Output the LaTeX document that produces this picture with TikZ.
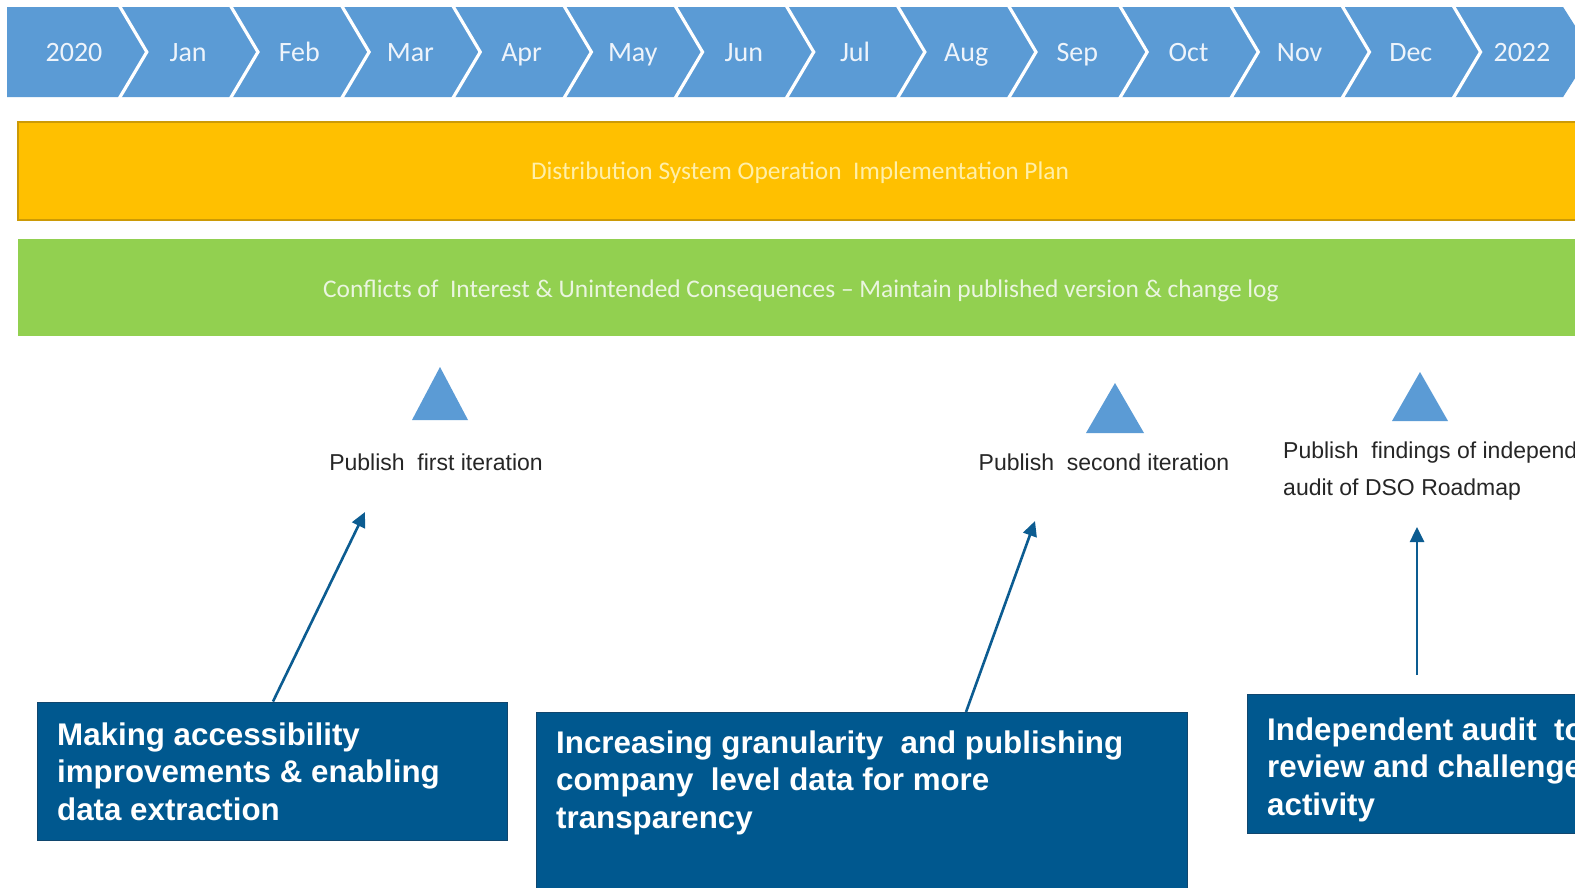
\documentclass[tikz,border=0pt]{standalone}
\usepackage{fontspec}
\setmainfont{Liberation Sans}
\newfontfamily\calib{Carlito}
\usetikzlibrary{arrows.meta}
\definecolor{chev}{HTML}{5B9BD5}
\definecolor{chevtxt}{HTML}{EEF4FB}
\definecolor{orangebar}{HTML}{FFC000}
\definecolor{orangeedge}{HTML}{CC9A06}
\definecolor{orangetxt}{HTML}{FFEFA8}
\definecolor{greenbar}{HTML}{92D050}
\definecolor{greentxt}{HTML}{EAF5DF}
\definecolor{boxblue}{RGB}{0,88,143}
\definecolor{boxedge}{RGB}{16,70,110}
\definecolor{arrblue}{RGB}{12,92,145}
\definecolor{lbl}{HTML}{262626}
\tikzset{
  mon/.style={font=\calib\fontsize{28}{32}\selectfont, text=chevtxt, inner sep=0pt, anchor=base},
  bar/.style={anchor=north west, inner sep=0pt, minimum width=1600pt, minimum height=98pt},
  bartxt/.style={font=\calib\fontsize{25.4}{30}\selectfont, inner sep=0pt, anchor=base},
  tri/.style={fill=chev},
  milestone/.style={font=\fontsize{23}{37}\selectfont, text=lbl, inner sep=0pt, align=left},
  bluebox/.style={fill=boxblue, draw=boxedge, line width=1.2pt, anchor=north west, inner sep=0pt},
  boxtxt/.style={font=\bfseries\fontsize{31.3}{37.5}\selectfont, text=white, inner sep=0pt, align=left, anchor=base west},
  arr/.style={draw=arrblue, line width=2.6pt, -{Triangle[length=15pt,width=14pt]}}
}
\begin{document}
\begin{tikzpicture}[x=1pt,y=-1pt]
\path[use as bounding box] (0,0) rectangle (1575,887);
\clip (0,0) rectangle (1575,887);
\fill[white] (0,0) rectangle (1575,887);

% timeline band
\fill[chev] (7,7) -- (1563.1,7) -- (1591.6,52) -- (1563.1,97) -- (7,97) -- cycle;
\foreach \k in {0,...,12}
  \draw[white, line width=3.2pt] ({118.3+111.15*\k},4) -- ({118.3+111.15*\k+28.5},52) -- ({118.3+111.15*\k},100);
\node[mon] (m0) at (74,61) {2020};
\foreach \m [count=\i from 1] in {Jan,Feb,Mar,Apr,May,Jun,Jul,Aug,Sep,Oct,Nov,Dec,2022}
  \node[mon] (m\i) at ({118.3+111.15*(\i-1)+69.85},61) {\m};

% bars
\node[bar, fill=orangebar, draw=orangeedge, line width=1.5pt, minimum height=98pt] (plan) at (17,121) {};
\node[bartxt, text=orangetxt] (plantxt) at (800,179) {Distribution System Operation\ \ Implementation Plan};
\node[bar, fill=greenbar, minimum height=97pt] (coi) at (18,239) {};
\node[bartxt, text=greentxt] (coitxt) at (801,297) {Conflicts of\ \ Interest \& Unintended Consequences – Maintain published version \& change log};

% milestones
\fill[tri] (440,367) -- (468,420) -- (412,420) -- cycle;
\fill[tri] (1115,383) -- (1144,433) -- (1086,433) -- cycle;
\fill[tri] (1420,372) -- (1448,421) -- (1392,421) -- cycle;
\node[milestone, anchor=base] (p1) at (436,470) {Publish\ \ first iteration};
\node[milestone, anchor=base] (p2) at (1104,470) {Publish\ \ second iteration};
\node[milestone, anchor=base west] (p3) at (1283,495) {Publish\ \ findings of independent\\audit of DSO Roadmap};

% boxes
\node[bluebox, minimum width=470pt, minimum height=138pt] (b1) at (37,701.5) {};
\node[boxtxt] (t1) at (57,820) {Making accessibility\\improvements \& enabling\\data extraction};
\node[bluebox, minimum width=651pt, minimum height=200pt] (b2) at (536,712) {};
\node[boxtxt] (t2) at (556,828) {Increasing granularity\ \ and publishing\\company\ \ level data for more\\transparency};
\node[bluebox, minimum width=360pt, minimum height=139pt] (b3) at (1247,694) {};
\node[boxtxt] (t3) at (1267,815) {Independent audit\ \ to\\review and challenge\\activity};

% arrows
\coordinate (a1s) at (273,701.5);
\coordinate (a1e) at (365,512);
\coordinate (a2s) at (966,712);
\coordinate (a2e) at (1035,521);
\coordinate (a3s) at (1417,675);
\coordinate (a3e) at (1417,527);
\draw[arr] (a1s) -- (a1e);
\draw[arr] (a2s) -- (a2e);
\draw[arr] (a3s) -- (a3e);
\end{tikzpicture}
\end{document}
